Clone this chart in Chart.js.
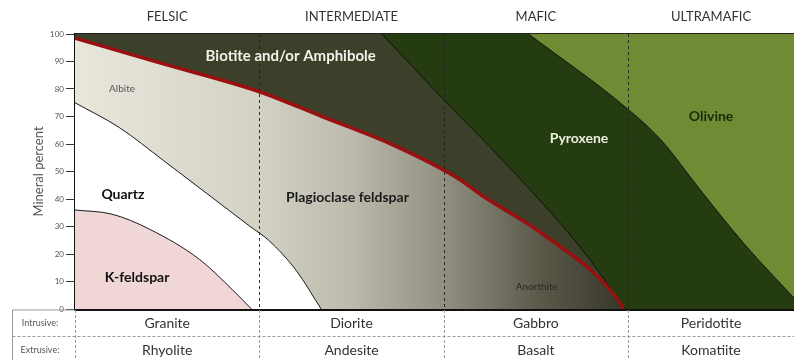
<!DOCTYPE html>
<html>
<head>
<meta charset="utf-8">
<script src="https://cdn.jsdelivr.net/npm/chart.js@4.4.1/dist/chart.umd.min.js"></script>
<style>
    html, body { margin: 0; padding: 0; background: #fff; }
    #wrap { width: 794px; height: 360px; }
</style>
</head>
<body>
<div id="wrap"><canvas id="chart" width="794" height="360"></canvas></div>
<script>
// Rock families along the x axis (one unit per column)
const families = ['FELSIC', 'INTERMEDIATE', 'MAFIC', 'ULTRAMAFIC'];
const familyCenters = [0.5, 1.5, 2.5, 3.45];
const intrusive = ['Granite', 'Diorite', 'Gabbro', 'Peridotite'];
const extrusive = ['Rhyolite', 'Andesite', 'Basalt', 'Komatiite'];
const yTicks = [0, 10, 20, 30, 40, 50, 60, 70, 80, 90, 100];

// Upper boundary of each mineral field (x = composition position, y = mineral percent)
const kfeldsparX = [0, 0.2, 0.405, 0.676, 0.854, 0.957];
const kfeldsparY = [36, 34.5, 29, 18, 7, 0];

const quartzX = [0, 0.24, 0.48, 0.95, 1.05, 1.2, 1.335];
const quartzY = [75, 66, 54, 30, 25, 14, 0];

const plagioclaseX = [0, 0.46, 1.0, 1.34, 1.70, 2.065, 2.22, 2.53, 2.946, 2.973];
const plagioclaseY = [98.5, 89.5, 79, 70, 60.4, 48, 40.7, 27.6, 3.3, 0];

// biotite/amphibole: 100 % up to the corner, then its sloping boundary
const amphiboleCapX = [0, 1.665];
const amphiboleCapY = [100, 100];
const amphiboleX = [1.665, 1.973, 2.335, 2.746, 2.984];
const amphiboleY = [100, 78, 53, 22, 0];

// pyroxene / olivine boundary (olivine lies above it)
const pyroxeneX = [2.46, 2.984, 3.178, 3.395, 3.632, 3.9];
const pyroxeneY = [100, 73.5, 61.5, 43, 23.5, 4];

const fullX = [0, 3.9];
const fullY = [100, 100];

const toPoints = (xs, ys) => xs.map((x, i) => ({ x, y: ys[i] }));

// In-field labels (positions in data units)
const fieldLabels = [
    { text: 'Biotite and/or Amphibole', x: 1.17, y: 92, font: 'bold 15px Lato', color: '#f2f2ea' },
    { text: 'Albite', x: 0.255, y: 80, font: '10px Lato', color: '#555' },
    { text: 'Quartz', x: 0.26, y: 41.5, font: 'bold 14px Lato', color: '#111' },
    { text: 'K-feldspar', x: 0.337, y: 11.3, font: 'bold 14px Lato', color: '#111' },
    { text: 'Plagioclase feldspar', x: 1.478, y: 40.7, font: 'bold 14px Lato', color: '#1a1a1a' },
    { text: 'Anorthite', x: 2.505, y: 8, font: '10px Lato', color: '#2a2a20' },
    { text: 'Pyroxene', x: 2.734, y: 62, font: 'bold 14px Lato', color: '#e8f0dc' },
    { text: 'Olivine', x: 3.45, y: 70, font: 'bold 14px Lato', color: '#1b2a0a' }
];

function plagioclaseFill(ctx) {
    const chart = ctx.chart;
    const area = chart.chartArea;
    if (!area) return '#cfcdc0';
    const xs = chart.scales.x;
    const g = chart.ctx.createLinearGradient(xs.getPixelForValue(0), 0, xs.getPixelForValue(2.973), 0);
    g.addColorStop(0, '#e9e7dc');
    g.addColorStop(0.32, '#d5d3c6');
    g.addColorStop(0.5, '#bdbbad');
    g.addColorStop(0.68, '#8f8d7f');
    g.addColorStop(0.85, '#5a5849');
    g.addColorStop(1, '#38382a');
    return g;
}

const overlayPlugin = {
    id: 'overlay',
    afterDatasetsDraw(chart) {
        const { ctx, chartArea, scales } = chart;
        const xs = scales.x, ys = scales.y;
        ctx.save();
        // dashed column dividers inside the plot
        ctx.strokeStyle = 'rgba(30,30,30,0.9)';
        ctx.lineWidth = 1;
        ctx.setLineDash([3, 3]);
        [1, 2, 3].forEach(v => {
            const px = Math.round(xs.getPixelForValue(v)) + 0.5;
            ctx.beginPath();
            ctx.moveTo(px, chartArea.top);
            ctx.lineTo(px, chartArea.bottom);
            ctx.stroke();
        });
        ctx.setLineDash([]);
        ctx.textAlign = 'center';
        ctx.textBaseline = 'middle';
        fieldLabels.forEach(l => {
            ctx.font = l.font;
            ctx.fillStyle = l.color;
            ctx.fillText(l.text, xs.getPixelForValue(l.x), ys.getPixelForValue(l.y));
        });
        ctx.restore();
    },
    afterDraw(chart) {
        const { ctx, chartArea, scales } = chart;
        const xs = scales.x;
        const top = chartArea.bottom + 1;
        const mid = 336.5;
        const bottom = 360;
        ctx.save();
        ctx.strokeStyle = '#9a9a9a';
        ctx.lineWidth = 1;
        // label column box
        ctx.beginPath();
        ctx.moveTo(12.5, bottom);
        ctx.lineTo(12.5, top);
        ctx.lineTo(chartArea.left, top);
        ctx.stroke();
        ctx.setLineDash([3, 2]);
        ctx.beginPath();
        ctx.moveTo(12.5, mid);
        ctx.lineTo(chartArea.right, mid);
        ctx.stroke();
        [0, 1, 2, 3].forEach(v => {
            const px = Math.round(xs.getPixelForValue(v)) + 0.5;
            ctx.beginPath();
            ctx.moveTo(px, top);
            ctx.lineTo(px, bottom);
            ctx.stroke();
        });
        ctx.setLineDash([]);
        ctx.textAlign = 'center';
        ctx.textBaseline = 'middle';
        ctx.font = '9px Lato';
        ctx.fillStyle = '#555';
        ctx.fillText('Intrusive:', 40, 323);
        ctx.fillText('Extrusive:', 40, 350);
        ctx.font = '14px Lato';
        ctx.fillStyle = '#333';
        familyCenters.forEach((c, i) => {
            const px = xs.getPixelForValue(c);
            ctx.fillText(intrusive[i], px, 323);
            ctx.fillText(extrusive[i], px, 350);
        });
        ctx.restore();
    }
};

const field = (label, xs, ys, bg, border, width, fill) => ({
    label,
    data: toPoints(xs, ys),
    backgroundColor: bg,
    borderColor: border,
    borderWidth: width,
    fill: fill || 'origin',
    pointRadius: 0,
    cubicInterpolationMode: 'monotone'
});

const none = 'rgba(0,0,0,0)';

new Chart(document.getElementById('chart'), {
    type: 'line',
    data: {
        // first dataset is drawn on top
        datasets: [
            field('K-feldspar', kfeldsparX, kfeldsparY, '#f1d6d6', '#1a1a1a', 1),
            field('Quartz', quartzX, quartzY, '#ffffff', '#1a1a1a', 1),
            field('Plagioclase feldspar', plagioclaseX, plagioclaseY, plagioclaseFill, '#9a1010', 3.5),
            field('Biotite and/or Amphibole', amphiboleX, amphiboleY, '#3c3f29', '#111', 1),
            field('Biotite and/or Amphibole (cap)', amphiboleCapX, amphiboleCapY, '#3c3f29', none, 0),
            field('Olivine', pyroxeneX, pyroxeneY, '#6f8c35', '#111', 1, 'end'),
            field('Pyroxene', fullX, fullY, '#243c10', none, 0)
        ]
    },
    options: {
        responsive: false,
        animation: false,
        layout: { padding: { left: 0, right: 0, top: 0, bottom: 51 } },
        plugins: {
            legend: { display: false },
            tooltip: { enabled: false }
        },
        scales: {
            x: {
                type: 'linear',
                min: 0,
                max: 3.9,
                ticks: { display: false },
                grid: { display: false, drawTicks: false },
                border: { display: true, color: '#111', width: 3 },
                afterFit: s => { s.height = 0; }
            },
            top: {
                type: 'linear',
                position: 'top',
                min: 0,
                max: 3.9,
                afterBuildTicks: s => { s.ticks = familyCenters.map(v => ({ value: v })); },
                ticks: {
                    autoSkip: false,
                    maxRotation: 0,
                    padding: 9,
                    color: '#333',
                    font: { family: 'Lato', size: 13 },
                    callback: (v, i) => families[i]
                },
                grid: { display: false, drawTicks: false },
                border: { display: true, color: '#222', width: 2 },
                afterFit: s => { s.height = 34; }
            },
            y: {
                min: 0,
                max: 100,
                afterBuildTicks: s => { s.ticks = yTicks.map(v => ({ value: v })); },
                ticks: {
                    color: '#555',
                    padding: 2,
                    font: { family: 'Lato', size: 8 }
                },
                grid: { drawOnChartArea: false, tickLength: 9, tickColor: '#333', lineWidth: 1 },
                border: { display: true, color: '#111', width: 2 },
                title: {
                    display: true,
                    text: 'Mineral percent',
                    color: '#555',
                    font: { family: 'Lato', size: 13 },
                    padding: { top: 31, bottom: 4 }
                },
                afterFit: s => { s.width = 75; }
            }
        }
    },
    plugins: [overlayPlugin]
});
</script>
</body>
</html>
